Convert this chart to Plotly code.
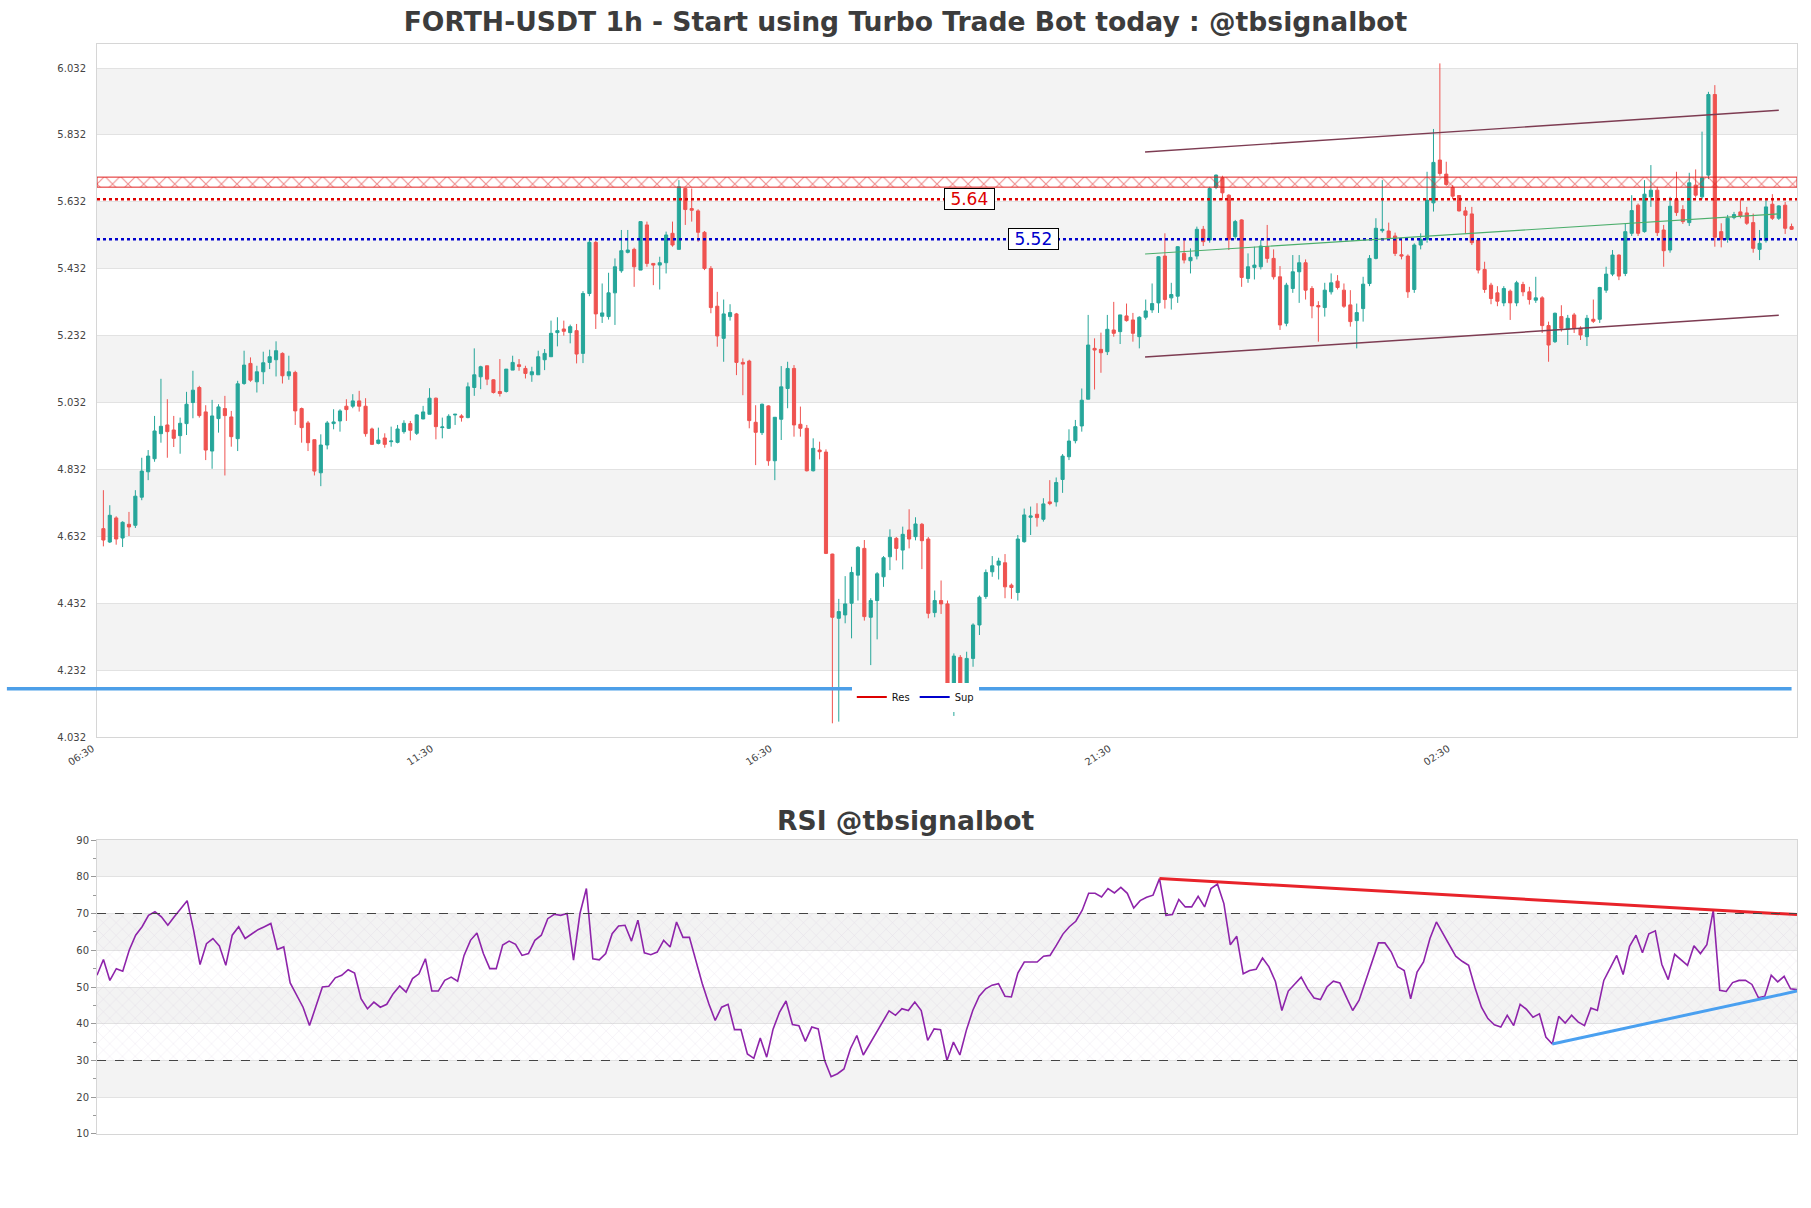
import plotly.graph_objects as go

# ---------------- data ----------------
open_prices = [
 4.655,4.615,4.687,4.627,4.668,4.665,4.749,4.825,4.864,4.939,4.965,4.950,4.933,4.969,5.032,5.077,5.004,4.887,4.984,5.014,
 4.989,4.924,5.089,5.149,5.094,5.124,5.152,5.160,5.179,5.112,5.122,5.014,4.971,4.921,4.822,4.905,4.969,4.977,5.021,5.021,
 5.037,5.021,4.953,4.910,4.926,4.915,4.913,4.945,4.969,4.940,4.983,4.997,5.045,4.957,4.955,4.995,4.992,4.987,5.077,5.109,
 5.142,5.100,5.065,5.065,5.129,5.145,5.134,5.115,5.115,5.160,5.169,5.241,5.252,5.241,5.247,5.179,5.358,5.511,5.290,5.289,
 5.360,5.426,5.481,5.490,5.428,5.563,5.448,5.443,5.450,5.538,5.490,5.672,5.612,5.605,5.541,5.433,5.320,5.224,5.289,5.297,
 5.152,5.156,4.973,4.942,5.022,4.858,4.982,5.074,5.134,4.967,4.955,4.828,4.890,4.884,4.579,4.387,4.397,4.432,4.516,4.596,
 4.390,4.440,4.511,4.571,4.626,4.591,4.651,4.631,4.668,4.624,4.404,4.440,4.430,4.183,4.270,4.152,4.267,4.367,4.452,4.526,
 4.546,4.553,4.486,4.464,4.616,4.689,4.698,4.683,4.735,4.735,4.802,4.870,4.918,4.962,5.042,5.194,5.191,5.184,5.249,5.244,
 5.291,5.279,5.229,5.287,5.309,5.330,5.470,5.345,5.350,5.478,5.456,5.470,5.550,5.518,5.675,5.704,5.652,5.528,5.578,5.403,
 5.436,5.438,5.498,5.463,5.408,5.269,5.373,5.423,5.450,5.373,5.322,5.316,5.363,5.395,5.368,5.324,5.277,5.313,5.388,5.463,
 5.546,5.545,5.530,5.474,5.470,5.370,5.503,5.520,5.629,5.757,5.715,5.675,5.651,5.605,5.596,5.518,5.430,5.383,5.360,5.330,
 5.365,5.330,5.385,5.363,5.338,5.345,5.262,5.214,5.289,5.251,5.294,5.254,5.229,5.281,5.281,5.368,5.416,5.473,5.418,5.538,
 5.622,5.543,5.647,5.667,5.548,5.488,5.639,5.609,5.570,5.682,5.647,5.712,5.953,5.543,5.520,5.585,5.602,5.599,5.570,5.490,
 5.516,5.625,5.583,5.622,5.558]
high_prices = [
 4.770,4.725,4.692,4.677,4.705,4.770,4.867,4.890,4.992,5.103,5.042,4.992,4.987,5.064,5.127,5.082,5.024,5.040,5.027,5.052,
 5.007,5.097,5.187,5.167,5.142,5.184,5.190,5.215,5.182,5.172,5.127,5.017,4.977,4.921,4.937,4.977,5.012,5.012,5.042,5.057,
 5.067,5.045,4.957,4.957,4.940,4.960,4.965,4.979,4.977,4.997,5.022,5.075,5.047,4.987,4.997,4.997,4.997,5.092,5.194,5.142,
 5.142,5.102,5.162,5.132,5.172,5.162,5.142,5.139,5.187,5.192,5.277,5.287,5.277,5.265,5.267,5.365,5.520,5.515,5.388,5.420,
 5.463,5.548,5.548,5.495,5.573,5.573,5.448,5.468,5.543,5.573,5.697,5.672,5.672,5.610,5.545,5.440,5.363,5.340,5.326,5.300,
 5.164,5.160,5.024,5.029,5.024,4.988,5.141,5.154,5.144,5.020,4.965,4.925,4.915,4.892,4.580,4.445,4.513,4.541,4.603,4.621,
 4.447,4.525,4.573,4.653,4.630,4.661,4.713,4.689,4.672,4.630,4.470,4.500,4.440,4.282,4.277,4.287,4.372,4.455,4.533,4.573,
 4.568,4.579,4.491,4.636,4.715,4.721,4.731,4.746,4.800,4.808,4.878,4.952,4.980,5.074,5.294,5.224,5.241,5.294,5.333,5.294,
 5.328,5.300,5.290,5.340,5.388,5.470,5.538,5.390,5.500,5.518,5.493,5.558,5.560,5.677,5.714,5.710,5.655,5.578,5.580,5.478,
 5.498,5.518,5.563,5.490,5.440,5.390,5.473,5.473,5.460,5.380,5.335,5.390,5.418,5.413,5.388,5.368,5.328,5.408,5.473,5.583,
 5.697,5.570,5.540,5.518,5.475,5.508,5.538,5.722,5.850,6.046,5.752,5.682,5.652,5.617,5.617,5.520,5.453,5.390,5.380,5.380,
 5.370,5.396,5.393,5.378,5.408,5.350,5.274,5.301,5.323,5.294,5.300,5.260,5.294,5.340,5.378,5.438,5.488,5.475,5.568,5.652,
 5.627,5.697,5.742,5.677,5.563,5.647,5.722,5.622,5.719,5.729,5.842,5.961,5.981,5.568,5.593,5.602,5.642,5.617,5.597,5.548,
 5.637,5.655,5.622,5.632,5.567]
low_prices = [
 4.602,4.612,4.607,4.600,4.633,4.657,4.740,4.800,4.855,4.912,4.867,4.899,4.879,4.935,4.985,4.987,4.860,4.834,4.942,4.814,
 4.900,4.887,5.085,5.094,5.062,5.087,5.132,5.110,5.089,5.100,4.965,4.912,4.887,4.814,4.782,4.892,4.952,4.945,4.977,5.015,
 5.005,4.930,4.905,4.907,4.897,4.900,4.910,4.939,4.919,4.935,4.982,4.997,4.922,4.925,4.953,4.965,4.975,4.985,5.052,5.072,
 5.084,5.059,5.050,5.062,5.129,5.127,5.104,5.094,5.115,5.129,5.169,5.200,5.232,5.209,5.149,5.150,5.350,5.252,5.270,5.280,
 5.264,5.420,5.478,5.378,5.428,5.438,5.383,5.370,5.418,5.498,5.490,5.563,5.573,5.513,5.428,5.299,5.199,5.154,5.277,5.114,
 5.054,4.955,4.845,4.935,4.843,4.800,4.920,5.015,4.930,4.930,4.826,4.826,4.862,4.579,4.073,4.078,4.372,4.327,4.440,4.380,
 4.247,4.324,4.481,4.531,4.560,4.533,4.596,4.620,4.534,4.387,4.390,4.400,4.170,4.095,4.148,4.121,4.242,4.337,4.445,4.511,
 4.503,4.447,4.445,4.440,4.613,4.636,4.661,4.676,4.725,4.721,4.762,4.860,4.910,4.945,5.042,5.071,5.121,5.174,5.229,5.207,
 5.274,5.214,5.194,5.280,5.300,5.300,5.313,5.310,5.330,5.448,5.418,5.460,5.500,5.510,5.670,5.637,5.488,5.520,5.378,5.390,
 5.400,5.430,5.450,5.400,5.249,5.260,5.360,5.330,5.340,5.284,5.214,5.289,5.355,5.370,5.315,5.259,5.194,5.274,5.380,5.460,
 5.540,5.520,5.470,5.460,5.345,5.360,5.490,5.510,5.603,5.710,5.680,5.640,5.603,5.537,5.503,5.418,5.360,5.326,5.320,5.320,
 5.279,5.320,5.350,5.325,5.330,5.240,5.154,5.210,5.244,5.204,5.240,5.219,5.201,5.270,5.270,5.360,5.410,5.398,5.410,5.530,
 5.530,5.540,5.617,5.530,5.438,5.480,5.590,5.566,5.560,5.645,5.640,5.700,5.498,5.496,5.510,5.580,5.583,5.563,5.480,5.458,
 5.510,5.578,5.578,5.536,5.548]
close_prices = [
 4.621,4.695,4.624,4.674,4.660,4.752,4.827,4.872,4.947,4.961,4.945,4.925,4.970,5.027,5.069,4.993,4.890,4.992,5.019,4.993,
 4.930,5.088,5.144,5.099,5.124,5.151,5.169,5.187,5.112,5.124,5.007,4.957,4.912,4.827,4.905,4.971,4.974,5.007,5.011,5.037,
 5.021,4.939,4.907,4.920,4.907,4.917,4.953,4.970,4.949,4.995,5.004,5.045,4.960,4.959,4.991,4.997,4.987,5.079,5.115,5.139,
 5.102,5.062,5.059,5.132,5.152,5.140,5.119,5.124,5.169,5.179,5.239,5.247,5.245,5.259,5.177,5.358,5.511,5.297,5.300,5.360,
 5.438,5.486,5.488,5.438,5.573,5.448,5.443,5.450,5.533,5.503,5.677,5.609,5.607,5.541,5.433,5.316,5.231,5.297,5.301,5.152,
 5.147,4.978,4.943,5.027,4.858,4.988,5.079,5.134,4.965,4.955,4.828,4.895,4.885,4.581,4.390,4.407,4.430,4.524,4.599,4.392,
 4.440,4.520,4.568,4.629,4.596,4.638,4.624,4.669,4.619,4.402,4.440,4.430,4.183,4.274,4.183,4.267,4.367,4.450,4.524,4.544,
 4.558,4.481,4.479,4.624,4.696,4.693,4.688,4.729,4.730,4.793,4.872,4.917,4.960,5.039,5.204,5.189,5.181,5.251,5.239,5.294,
 5.277,5.239,5.287,5.306,5.328,5.468,5.340,5.355,5.498,5.458,5.466,5.550,5.513,5.672,5.712,5.659,5.520,5.573,5.406,5.438,
 5.443,5.500,5.463,5.408,5.264,5.383,5.423,5.450,5.368,5.321,5.318,5.368,5.390,5.376,5.320,5.274,5.301,5.386,5.463,5.553,
 5.550,5.523,5.478,5.470,5.363,5.503,5.520,5.637,5.750,5.717,5.684,5.649,5.605,5.592,5.510,5.428,5.370,5.343,5.335,5.373,
 5.330,5.390,5.363,5.340,5.345,5.262,5.204,5.299,5.254,5.284,5.254,5.234,5.284,5.275,5.376,5.416,5.473,5.410,5.543,5.606,
 5.538,5.655,5.667,5.540,5.486,5.619,5.600,5.573,5.689,5.652,5.704,5.953,5.526,5.520,5.583,5.594,5.590,5.568,5.493,5.508,
 5.617,5.583,5.620,5.553,5.550]

rsi_values = [
 53.2,57.5,51.8,55.0,54.3,60.0,64.1,66.4,69.5,70.5,69.1,66.8,69.1,71.4,73.5,65.5,56.1,61.8,63.2,61.2,
 55.9,64.1,66.4,63.2,64.4,65.6,66.4,67.3,60.2,60.9,51.1,47.7,44.5,39.5,44.5,50.0,50.2,52.5,53.2,54.7,
 53.8,46.8,44.1,45.9,44.5,45.3,48.2,50.3,48.6,52.3,53.6,57.7,48.9,48.9,51.8,52.7,51.6,58.6,62.7,64.7,
 59.1,55.0,55.0,61.4,62.5,61.6,58.6,59.1,62.7,64.1,68.6,69.8,69.5,70.0,57.3,70.0,76.8,57.7,57.4,59.1,
 64.5,66.6,66.8,62.5,68.2,59.3,58.8,59.5,62.7,60.9,67.7,63.5,63.5,57.3,50.9,45.5,40.9,44.5,45.3,38.4,
 38.4,31.8,30.6,36.1,30.9,38.6,43.2,46.2,39.8,39.5,35.2,39.1,38.6,30.0,25.6,26.4,27.7,33.2,36.8,31.5,
 34.5,37.7,40.5,43.5,42.3,44.1,43.6,45.9,43.6,35.5,38.6,38.4,30.0,35.0,31.5,38.2,43.6,47.5,49.5,50.5,
 50.9,47.5,47.3,53.8,56.8,56.8,56.8,58.4,58.6,61.4,64.4,66.4,67.9,70.9,75.5,75.5,74.5,76.8,75.6,77.1,
 75.5,71.5,73.5,74.4,75.0,79.5,69.5,69.7,73.8,71.8,71.8,74.7,71.8,76.8,78.0,72.7,61.5,63.8,53.6,54.5,
 54.8,57.9,55.5,51.5,43.6,48.9,50.7,52.7,49.5,47.0,46.6,50.0,51.6,51.1,47.3,43.6,46.4,51.4,56.5,62.0,
 62.0,59.5,55.5,54.5,46.8,54.1,56.8,63.2,67.7,64.5,61.4,58.4,57.0,55.9,49.8,44.5,41.4,39.7,39.1,42.3,
 39.5,45.3,43.9,41.8,42.7,36.4,34.5,42.0,40.2,42.3,40.5,39.5,44.3,43.6,51.8,55.0,58.6,53.4,61.1,64.1,
 59.3,64.5,65.3,56.2,52.0,58.9,57.3,55.9,61.2,59.1,61.5,70.9,49.1,48.8,51.2,51.8,51.8,50.7,47.1,47.5,
 53.2,51.4,52.9,49.5,49.3]

tick_positions = [0, 53, 106, 159, 212]
tick_labels = ["06:30", "11:30", "16:30", "21:30", "02:30"]
price_ticks = [4.032, 4.232, 4.432, 4.632, 4.832, 5.032, 5.232, 5.432, 5.632, 5.832, 6.032]
rsi_ticks = [10, 20, 30, 40, 50, 60, 70, 80, 90]

resistance_level = 5.64
support_level = 5.52
res_zone = [5.676, 5.706]
long_support_level = 4.176

channel_x = [162.9, 262.0]
channel_upper = [5.781, 5.906]
channel_lower = [5.168, 5.293]
channel_mid = [5.476, 5.596]

rsi_res_x = [165, 264]
rsi_res_y = [79.5, 69.7]
rsi_sup_x = [226, 264]
rsi_sup_y = [34.5, 48.9]

# ---------------- figure ----------------
N = len(close_prices)
idx = list(range(N))
X_MIN, X_MAX = -1, 264.85

GREEN = "#26a69a"
RED = "#ef5350"
BAND = "#f3f3f3"
GRID = "#e2e2e2"

fig = go.Figure()

# RSI hatched zone 30-70
fig.add_trace(go.Scatter(
    x=[0, N - 1, N - 1, 0, 0], y=[30, 30, 70, 70, 30],
    mode="lines", line=dict(width=0), fill="toself",
    fillcolor="rgba(0,0,0,0)",
    fillpattern=dict(shape="x", fgcolor="rgba(150,120,175,0.42)", bgcolor="rgba(0,0,0,0)",
                     size=9, solidity=0.09),
    hoverinfo="skip", showlegend=False, xaxis="x2", yaxis="y2"))

# Resistance hatched band
fig.add_trace(go.Scatter(
    x=[X_MIN, X_MAX, X_MAX, X_MIN, X_MIN],
    y=[res_zone[0], res_zone[0], res_zone[1], res_zone[1], res_zone[0]],
    mode="lines", line=dict(color="#e02020", width=1), fill="toself",
    fillcolor="rgba(0,0,0,0)",
    fillpattern=dict(shape="x", fgcolor="#e02020", bgcolor="rgba(0,0,0,0)", size=11, solidity=0.2),
    hoverinfo="skip", showlegend=False, xaxis="x", yaxis="y"))

# Res / Sup dotted levels
fig.add_trace(go.Scatter(x=[X_MIN, X_MAX], y=[resistance_level] * 2, mode="lines",
                         line=dict(color="#dd0000", width=2.5, dash="dot"),
                         showlegend=False, hoverinfo="skip"))
fig.add_trace(go.Scatter(x=[X_MIN, X_MAX], y=[support_level] * 2, mode="lines",
                         line=dict(color="#0000cc", width=2.5, dash="dot"),
                         showlegend=False, hoverinfo="skip"))

# Candles
fig.add_trace(go.Candlestick(
    x=idx, open=open_prices, high=high_prices, low=low_prices, close=close_prices,
    increasing=dict(line=dict(color=GREEN, width=1), fillcolor=GREEN),
    decreasing=dict(line=dict(color=RED, width=1), fillcolor=RED),
    whiskerwidth=0, showlegend=False, xaxis="x", yaxis="y"))

# Channel
for yy, col, w in [(channel_upper, "#7d3c52", 1.4), (channel_lower, "#7d3c52", 1.4), (channel_mid, "#4cae6c", 1.1)]:
    fig.add_trace(go.Scatter(x=channel_x, y=yy, mode="lines", line=dict(color=col, width=w),
                             showlegend=False, hoverinfo="skip"))

# Legend entries
fig.add_trace(go.Scatter(x=[None], y=[None], mode="lines", line=dict(color="#dd0000", width=2), name="Res"))
fig.add_trace(go.Scatter(x=[None], y=[None], mode="lines", line=dict(color="#0000cc", width=2), name="Sup"))

# RSI
fig.add_trace(go.Scatter(x=idx, y=rsi_values, mode="lines", line=dict(color="#8e24aa", width=1.6),
                         showlegend=False, xaxis="x2", yaxis="y2"))
fig.add_trace(go.Scatter(x=rsi_res_x, y=rsi_res_y, mode="lines", line=dict(color="#e8232a", width=3),
                         showlegend=False, xaxis="x2", yaxis="y2"))
fig.add_trace(go.Scatter(x=rsi_sup_x, y=rsi_sup_y, mode="lines", line=dict(color="#4aa0f0", width=3),
                         showlegend=False, xaxis="x2", yaxis="y2"))

shapes = []
# main bands
for lo in [4.232, 4.632, 5.032, 5.432, 5.832]:
    shapes.append(dict(type="rect", xref="x domain", yref="y", x0=0, x1=1, y0=lo, y1=lo + 0.2,
                       fillcolor=BAND, line=dict(width=0), layer="below"))
# RSI bands
for lo in [20, 40, 60, 80]:
    shapes.append(dict(type="rect", xref="x2 domain", yref="y2", x0=0, x1=1, y0=lo, y1=lo + 10,
                       fillcolor=BAND, line=dict(width=0), layer="below"))
# RSI 70/30 dashed
for lv in [30, 70]:
    shapes.append(dict(type="line", xref="x2 domain", yref="y2", x0=0, x1=1, y0=lv, y1=lv,
                       line=dict(color="#444444", width=1.2, dash="dash")))
# long light-blue support line
shapes.append(dict(type="line", xref="paper", yref="y", x0=-0.053, x1=0.9968,
                   y0=long_support_level, y1=long_support_level,
                   line=dict(color="#4d9fe8", width=3.5)))

NB = "\u00a0"
annotations = [
    dict(x=135.4, y=resistance_level, xref="x", yref="y", text=NB + "5.64" + NB, showarrow=False,
         font=dict(size=17, color="#dd0000"), bgcolor="white", bordercolor="black",
         borderwidth=1, borderpad=0),
    dict(x=145.5, y=support_level, xref="x", yref="y", text=NB + "5.52" + NB, showarrow=False,
         font=dict(size=17, color="#0000cc"), bgcolor="white", bordercolor="black",
         borderwidth=1, borderpad=0),
    dict(x=0.4753, y=0.288, xref="paper", yref="paper", text="<b>RSI @tbsignalbot</b>",
         showarrow=False, font=dict(size=26.6, color="#3c3c3c"), xanchor="center", yanchor="middle"),
]

axis_common = dict(showline=True, mirror=True, linecolor="#d6d6d6", linewidth=1, zeroline=False)

fig.update_layout(
    width=1811, height=1208,
    margin=dict(l=97, r=14, t=44, b=74),
    paper_bgcolor="white", plot_bgcolor="white",
    font=dict(family="DejaVu Sans", size=10, color="#444444"),
    title=dict(text="<b>FORTH-USDT 1h - Start using Turbo Trade Bot today : @tbsignalbot</b>",
               x=0.5, xanchor="center", xref="container", y=1 - 22 / 1208, yanchor="middle",
               yref="container", font=dict(size=26.6, color="#3c3c3c")),
    xaxis=dict(domain=[0, 1], range=[X_MIN, X_MAX], anchor="y",
               tickmode="array", tickvals=tick_positions, ticktext=tick_labels,
               tickangle=-33, showgrid=False, rangeslider=dict(visible=False),
               ticklabelshift=-11, ticklabelstandoff=1,
               tickfont=dict(size=10, color="#444444"), **axis_common),
    yaxis=dict(domain=[0.3642, 1], range=[4.032, 6.104], anchor="x",
               tickmode="array", tickvals=price_ticks, ticktext=[f"{v:.3f}" for v in price_ticks],
               showgrid=True, gridcolor=GRID, gridwidth=1, ticks="", ticklabelstandoff=8,
               tickfont=dict(size=10, color="#444444"), **axis_common),
    xaxis2=dict(domain=[0, 1], range=[0, N - 1], anchor="y2", showticklabels=False,
                showgrid=False, ticks="", **axis_common),
    yaxis2=dict(domain=[0, 0.2697], range=[10, 90], anchor="x2",
                tickmode="array", tickvals=rsi_ticks, showgrid=True, gridcolor=GRID,
                ticks="outside", ticklen=5, tickcolor="#999999",
                minor=dict(tickmode="array", tickvals=[15, 25, 35, 45, 55, 65, 75, 85],
                           ticks="outside", ticklen=3, tickcolor="#999999", showgrid=False),
                tickfont=dict(size=10, color="#444444"), **axis_common),
    shapes=shapes,
    annotations=annotations,
    showlegend=True,
    legend=dict(orientation="h", x=0.444, y=0.4009, xanchor="left", yanchor="middle",
                bgcolor="white", font=dict(size=10, color="#111111"), itemwidth=30,
                borderwidth=0),
    hovermode=False,
)

fig.write_html("out.html")
